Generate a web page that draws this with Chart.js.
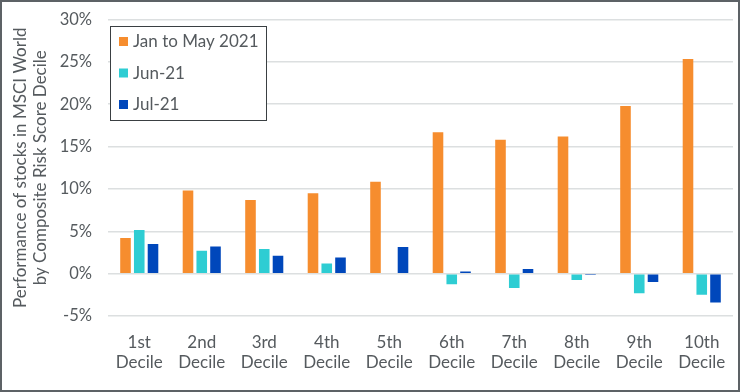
<!DOCTYPE html>
<html>
<head>
<meta charset="utf-8">
<script src="https://cdn.jsdelivr.net/npm/chart.js@4"></script>
<style>
  html, body {
    margin: 0;
    padding: 0;
    background: #fff;
  }

  .frame {
    width: 740px;
    height: 392px;
    box-sizing: border-box;
    border: 2px solid #5d6266;
    position: relative;
  }

  .frame canvas {
    display: block;
  }
</style>
</head>
<body>

<div class="frame">
  <canvas id="deciles" width="736" height="388"></canvas>
</div>

<script>

const deciles = [
  ['1st', 'Decile'], ['2nd', 'Decile'], ['3rd', 'Decile'], ['4th', 'Decile'],
  ['5th', 'Decile'], ['6th', 'Decile'], ['7th', 'Decile'], ['8th', 'Decile'],
  ['9th', 'Decile'], ['10th', 'Decile']
];

const janToMay = [4.2, 9.8, 8.7, 9.5, 10.85, 16.7, 15.8, 16.2, 19.8, 25.35];

const jun21 = [5.15, 2.7, 2.9, 1.2, 0, -1.25, -1.7, -0.75, -2.3, -2.5];

const jul21 = [3.5, 3.2, 2.1, 1.9, 3.15, 0.25, 0.55, -0.15, -1.0, -3.4];

const seriesNames = ['Jan to May 2021', 'Jun-21', 'Jul-21'];

const yTicks = [-5, 0, 5, 10, 15, 20, 25, 30];

const textColor = '#555a5e';
const font = 'Lato, "DejaVu Sans", sans-serif';

// legend box drawn inside the plot, top left
const boxedLegend = {

  id: 'boxedLegend',

  afterDraw(chart) {

    const ctx = chart.ctx;
    const left = chart.chartArea.left + 2;
    const top = 24;
    const w = 156;
    const h = 94;

    ctx.save();

    ctx.fillStyle = '#fff';
    ctx.fillRect(left, top, w, h);

    ctx.strokeStyle = '#3a3f42';
    ctx.lineWidth = 1;
    ctx.strokeRect(left + 0.5, top + 0.5, w, h);

    ctx.font = '17px ' + font;
    ctx.textBaseline = 'middle';

    chart.data.datasets.forEach((ds, i) => {

      const y = top + 16 + i * 31.5;

      ctx.fillStyle = ds.backgroundColor;
      ctx.fillRect(left + 9, y - 5, 9, 9);

      ctx.fillStyle = textColor;
      ctx.fillText(ds.label, left + 23, y);
    });

    ctx.restore();
  }
};

new Chart(
  document.getElementById('deciles'),
  {
    type: 'bar',

    data: {

      labels: deciles,

      datasets: [
        {
          label: seriesNames[0],
          data: janToMay,
          backgroundColor: '#f68d2e'
        },
        {
          label: seriesNames[1],
          data: jun21,
          backgroundColor: '#2ecdd3'
        },
        {
          label: seriesNames[2],
          data: jul21,
          backgroundColor: '#0047bb'
        }
      ]
    },

    options: {

      responsive: false,

      animation: false,

      categoryPercentage: 0.66,

      barPercentage: 0.77,

      layout: {
        padding: { top: 17.5, right: 5, left: 8, bottom: 0 }
      },

      plugins: {

        legend: { display: false },

        tooltip: { enabled: false }
      },

      scales: {

        x: {

          grid: { display: false },

          border: { display: false },

          ticks: {
            color: textColor,
            font: { family: font, size: 17 },
            maxRotation: 0,
            padding: 8
          },

          afterFit(scale) {
            scale.height = 74;
          }
        },

        y: {

          min: -5,

          max: 30,

          afterBuildTicks(scale) {
            scale.ticks = yTicks.map(v => ({ value: v }));
          },

          grid: {
            color: '#dcdfe0',
            lineWidth: 1.5,
            drawTicks: false
          },

          border: { display: false },

          ticks: {
            color: textColor,
            font: { family: font, size: 16.5 },
            padding: 16,
            callback: v => v + '%'
          },

          title: {
            display: true,
            text: ['Performance of stocks in MSCI World', 'by Composite Risk Score Decile'],
            color: textColor,
            font: { family: font, size: 17 },
            padding: { top: 0, bottom: 0 }
          },

          afterFit(scale) {
            scale.width = 98;
            scale.paddingTop = 0;
            scale.paddingBottom = 0;
          }
        }
      }
    },

    plugins: [boxedLegend]
  }
);

</script>
</body>
</html>
